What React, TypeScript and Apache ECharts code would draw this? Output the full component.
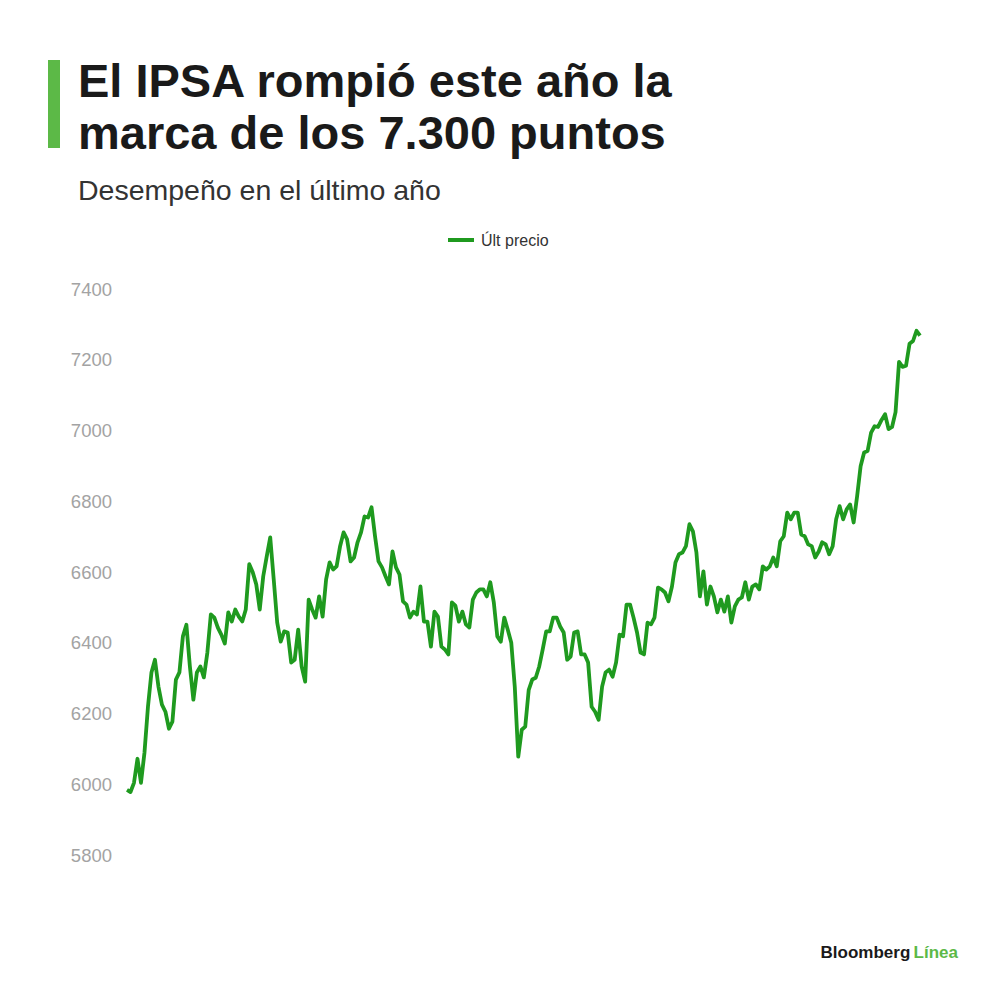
import React, { useEffect, useRef } from "react";
import * as echarts from "echarts";

const titleLines = ["El IPSA rompió este año la", "marca de los 7.300 puntos"];
const subtitle = "Desempeño en el último año";
const seriesName = "Últ precio";

const values: number[] = [
  // first stretch
  5984, 5978, 6004, 6072, 6004, 6089, 6219, 6316, 6352, 6276, 6225, 6205, 6157, 6177, 6296,
  6316, 6418, 6451, 6333, 6239, 6316, 6333, 6302, 6372, 6480, 6471, 6443, 6423, 6398, 6486,
  6460, 6494, 6474, 6460, 6494, 6622, 6599, 6565, 6494, 6588, 6644, 6698, 6579, 6457, 6403,
  6432, 6429, 6344, 6352, 6437, 6333, 6290,
  // second stretch
  6522, 6494, 6471, 6531, 6474, 6579, 6627, 6607, 6616, 6673, 6712, 6692, 6630, 6641, 6684,
  6712, 6757, 6754, 6783, 6701, 6630, 6613, 6588, 6565, 6658, 6613, 6593, 6517, 6508, 6471,
  6488, 6480, 6559, 6460, 6460, 6389, 6488, 6474, 6389, 6381, 6367, 6514, 6505, 6460, 6488,
  6452, 6443, 6522, 6542, 6551, 6551, 6531, 6571, 6514, 6418, 6403, 6471, 6437, 6400,
  // third stretch
  6276, 6078, 6154, 6163, 6267, 6296, 6301, 6333, 6381, 6432, 6432, 6471, 6471, 6446, 6429,
  6352, 6361, 6429, 6432, 6367, 6367, 6344, 6219, 6205, 6182, 6276, 6316, 6324, 6304, 6344,
  6423, 6418, 6508, 6508, 6471, 6429, 6372, 6367, 6457, 6452, 6471, 6556, 6551, 6542, 6517,
  6559, 6627, 6650, 6655, 6673, 6735, 6715, 6655, 6531, 6602, 6508, 6559, 6531,
  // last stretch
  6486, 6522, 6488, 6531, 6457, 6503, 6522, 6528, 6571, 6522, 6559, 6565, 6551, 6616, 6607,
  6616, 6641, 6616, 6687, 6701, 6768, 6749, 6768, 6768, 6706, 6701, 6678, 6673, 6641, 6658,
  6684, 6678, 6650, 6673, 6749, 6786, 6749, 6777, 6791, 6740, 6814, 6899, 6938, 6942, 6994,
  7012, 7010, 7030, 7046, 7004, 7010, 7052, 7194, 7180, 7183, 7245, 7253, 7282, 7268,
];

const days: string[] = values.map((_, i) => String(i + 1));

const yMin = 5800;
const yMax = 7400;
const yInterval = 200;

const FONT = "'Liberation Sans', Arial, sans-serif";
const LINE_GREEN = "#1f9a1f";
const BRAND_GREEN = "#5cb947";

export default function App() {
  const ref = useRef<HTMLDivElement>(null);

  useEffect(() => {
    if (!ref.current) return;
    const chart = echarts.init(ref.current, null, { renderer: "svg" });
    chart.setOption({
      animation: false,
      backgroundColor: "#ffffff",
      textStyle: { fontFamily: FONT },
      graphic: [
        {
          type: "rect",
          left: 48,
          top: 60,
          shape: { width: 12, height: 88 },
          style: { fill: BRAND_GREEN },
        },
        {
          type: "text",
          left: 78,
          top: 54,
          style: {
            text: titleLines.join("\n"),
            fontFamily: FONT,
            fontWeight: "bold",
            fontSize: 47,
            lineHeight: 52,
            fill: "#1a1a1a",
          },
        },
        {
          type: "text",
          left: 78,
          top: 175,
          style: {
            text: subtitle,
            fontFamily: FONT,
            fontSize: 28.5,
            fill: "#333333",
          },
        },
        {
          type: "text",
          right: 42,
          top: 944,
          style: {
            text: "{a|Bloomberg} {b|Línea}",
            rich: {
              a: { fontFamily: FONT, fontWeight: "bold", fontSize: 17, fill: "#1a1a1a" },
              b: { fontFamily: FONT, fontWeight: "bold", fontSize: 17, fill: BRAND_GREEN },
            },
          },
        },
      ],
      legend: {
        left: 443,
        top: 227,
        icon: "rect",
        itemWidth: 26,
        itemHeight: 4,
        itemGap: 10,
        textStyle: { fontFamily: FONT, fontSize: 16, color: "#333333", padding: [0, 0, 0, 2] },
        data: [seriesName],
      },
      grid: { left: 127, right: 80, top: 289, bottom: 145 },
      xAxis: {
        type: "category",
        data: days,
        boundaryGap: false,
        show: false,
      },
      yAxis: {
        type: "value",
        min: yMin,
        max: yMax,
        interval: yInterval,
        axisLine: { show: false },
        axisTick: { show: false },
        splitLine: { show: false },
        axisLabel: {
          margin: 15,
          color: "#a3a3a3",
          fontSize: 18.5,
          fontFamily: FONT,
          formatter: (v: number) => String(v),
        },
      },
      series: [
        {
          name: seriesName,
          type: "line",
          data: values,
          symbol: "none",
          lineStyle: { color: LINE_GREEN, width: 3.8, join: "round" },
          itemStyle: { color: LINE_GREEN },
        },
      ],
    });
    return () => chart.dispose();
  }, []);

  return (
    <div
      ref={ref}
      style={{ position: "fixed", left: 0, top: 0, width: 1000, height: 1000, background: "#fff" }}
    />
  );
}
